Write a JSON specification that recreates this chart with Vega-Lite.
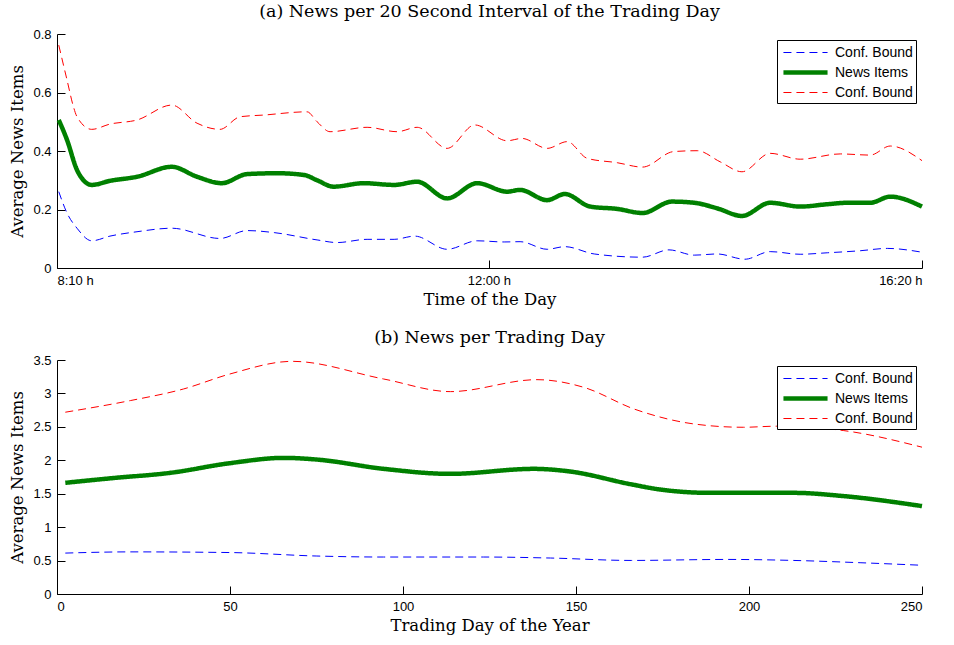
{
  "$schema": "https://vega.github.io/schema/vega-lite/v6.json",
  "padding": {"left": 9, "top": 2, "right": 5, "bottom": 5},
  "spacing": 20,
  "datasets": {
    "intraday": [
      {"s": "mid", "x": 3, "y": 0.506}, {"s": "mid", "x": 17, "y": 0.438}, {"s": "mid", "x": 34, "y": 0.335}, {"s": "mid", "x": 45, "y": 0.300}, {"s": "mid", "x": 59, "y": 0.284}, {"s": "mid", "x": 90, "y": 0.298}, {"s": "mid", "x": 136, "y": 0.312}, {"s": "mid", "x": 195, "y": 0.346}, {"s": "mid", "x": 238, "y": 0.312}, {"s": "mid", "x": 280, "y": 0.290}, {"s": "mid", "x": 323, "y": 0.321}, {"s": "mid", "x": 374, "y": 0.324}, {"s": "mid", "x": 420, "y": 0.318}, {"s": "mid", "x": 442, "y": 0.300}, {"s": "mid", "x": 470, "y": 0.278}, {"s": "mid", "x": 521, "y": 0.290}, {"s": "mid", "x": 573, "y": 0.284}, {"s": "mid", "x": 612, "y": 0.295}, {"s": "mid", "x": 663, "y": 0.238}, {"s": "mid", "x": 714, "y": 0.290}, {"s": "mid", "x": 765, "y": 0.261}, {"s": "mid", "x": 787, "y": 0.267}, {"s": "mid", "x": 833, "y": 0.232}, {"s": "mid", "x": 863, "y": 0.253}, {"s": "mid", "x": 906, "y": 0.210}, {"s": "mid", "x": 952, "y": 0.202}, {"s": "mid", "x": 995, "y": 0.188}, {"s": "mid", "x": 1045, "y": 0.227}, {"s": "mid", "x": 1083, "y": 0.223}, {"s": "mid", "x": 1122, "y": 0.204}, {"s": "mid", "x": 1164, "y": 0.178}, {"s": "mid", "x": 1212, "y": 0.223}, {"s": "mid", "x": 1263, "y": 0.210}, {"s": "mid", "x": 1309, "y": 0.218}, {"s": "mid", "x": 1343, "y": 0.223}, {"s": "mid", "x": 1382, "y": 0.223}, {"s": "mid", "x": 1416, "y": 0.244}, {"s": "mid", "x": 1470, "y": 0.210},
      {"s": "hi", "x": 3, "y": 0.762}, {"s": "hi", "x": 17, "y": 0.643}, {"s": "hi", "x": 28, "y": 0.551}, {"s": "hi", "x": 34, "y": 0.517}, {"s": "hi", "x": 59, "y": 0.474}, {"s": "hi", "x": 90, "y": 0.492}, {"s": "hi", "x": 136, "y": 0.506}, {"s": "hi", "x": 195, "y": 0.557}, {"s": "hi", "x": 238, "y": 0.495}, {"s": "hi", "x": 277, "y": 0.474}, {"s": "hi", "x": 311, "y": 0.517}, {"s": "hi", "x": 352, "y": 0.523}, {"s": "hi", "x": 425, "y": 0.534}, {"s": "hi", "x": 442, "y": 0.500}, {"s": "hi", "x": 464, "y": 0.466}, {"s": "hi", "x": 527, "y": 0.481}, {"s": "hi", "x": 578, "y": 0.466}, {"s": "hi", "x": 612, "y": 0.481}, {"s": "hi", "x": 663, "y": 0.409}, {"s": "hi", "x": 710, "y": 0.489}, {"s": "hi", "x": 765, "y": 0.435}, {"s": "hi", "x": 790, "y": 0.443}, {"s": "hi", "x": 833, "y": 0.409}, {"s": "hi", "x": 867, "y": 0.432}, {"s": "hi", "x": 901, "y": 0.375}, {"s": "hi", "x": 952, "y": 0.360}, {"s": "hi", "x": 995, "y": 0.345}, {"s": "hi", "x": 1048, "y": 0.398}, {"s": "hi", "x": 1088, "y": 0.401}, {"s": "hi", "x": 1127, "y": 0.363}, {"s": "hi", "x": 1164, "y": 0.329}, {"s": "hi", "x": 1212, "y": 0.392}, {"s": "hi", "x": 1263, "y": 0.372}, {"s": "hi", "x": 1331, "y": 0.390}, {"s": "hi", "x": 1382, "y": 0.386}, {"s": "hi", "x": 1416, "y": 0.417}, {"s": "hi", "x": 1470, "y": 0.367},
      {"s": "lo", "x": 3, "y": 0.261}, {"s": "lo", "x": 17, "y": 0.188}, {"s": "lo", "x": 34, "y": 0.136}, {"s": "lo", "x": 59, "y": 0.093}, {"s": "lo", "x": 90, "y": 0.109}, {"s": "lo", "x": 136, "y": 0.124}, {"s": "lo", "x": 195, "y": 0.136}, {"s": "lo", "x": 277, "y": 0.101}, {"s": "lo", "x": 323, "y": 0.128}, {"s": "lo", "x": 369, "y": 0.121}, {"s": "lo", "x": 442, "y": 0.096}, {"s": "lo", "x": 476, "y": 0.087}, {"s": "lo", "x": 527, "y": 0.098}, {"s": "lo", "x": 573, "y": 0.098}, {"s": "lo", "x": 608, "y": 0.109}, {"s": "lo", "x": 663, "y": 0.064}, {"s": "lo", "x": 714, "y": 0.093}, {"s": "lo", "x": 760, "y": 0.089}, {"s": "lo", "x": 787, "y": 0.090}, {"s": "lo", "x": 833, "y": 0.064}, {"s": "lo", "x": 863, "y": 0.073}, {"s": "lo", "x": 913, "y": 0.048}, {"s": "lo", "x": 995, "y": 0.037}, {"s": "lo", "x": 1040, "y": 0.062}, {"s": "lo", "x": 1083, "y": 0.044}, {"s": "lo", "x": 1122, "y": 0.048}, {"s": "lo", "x": 1169, "y": 0.030}, {"s": "lo", "x": 1212, "y": 0.056}, {"s": "lo", "x": 1263, "y": 0.047}, {"s": "lo", "x": 1309, "y": 0.052}, {"s": "lo", "x": 1365, "y": 0.059}, {"s": "lo", "x": 1411, "y": 0.067}, {"s": "lo", "x": 1470, "y": 0.054}
    ],
    "daily": [
      {"s": "mid", "x": 2.4, "y": 1.663}, {"s": "mid", "x": 16.4, "y": 1.735}, {"s": "mid", "x": 32.7, "y": 1.812}, {"s": "mid", "x": 50, "y": 1.957}, {"s": "mid", "x": 65.5, "y": 2.036}, {"s": "mid", "x": 75.1, "y": 2.011}, {"s": "mid", "x": 94.4, "y": 1.872}, {"s": "mid", "x": 113.7, "y": 1.797}, {"s": "mid", "x": 137.8, "y": 1.872}, {"s": "mid", "x": 148.3, "y": 1.832}, {"s": "mid", "x": 166.0, "y": 1.640}, {"s": "mid", "x": 174.3, "y": 1.563}, {"s": "mid", "x": 188.8, "y": 1.513}, {"s": "mid", "x": 212.9, "y": 1.513}, {"s": "mid", "x": 227.4, "y": 1.464}, {"s": "mid", "x": 250, "y": 1.315},
      {"s": "hi", "x": 2.4, "y": 2.719}, {"s": "hi", "x": 21.2, "y": 2.893}, {"s": "hi", "x": 36.6, "y": 3.067}, {"s": "hi", "x": 50, "y": 3.291}, {"s": "hi", "x": 68, "y": 3.48}, {"s": "hi", "x": 94.4, "y": 3.216}, {"s": "hi", "x": 113.7, "y": 3.027}, {"s": "hi", "x": 138.7, "y": 3.206}, {"s": "hi", "x": 152.2, "y": 3.092}, {"s": "hi", "x": 167.0, "y": 2.763}, {"s": "hi", "x": 184, "y": 2.544}, {"s": "hi", "x": 198.4, "y": 2.494}, {"s": "hi", "x": 208, "y": 2.51}, {"s": "hi", "x": 227.4, "y": 2.444}, {"s": "hi", "x": 250, "y": 2.196},
      {"s": "lo", "x": 2.4, "y": 0.612}, {"s": "lo", "x": 21.2, "y": 0.630}, {"s": "lo", "x": 50, "y": 0.620}, {"s": "lo", "x": 75.1, "y": 0.568}, {"s": "lo", "x": 94.4, "y": 0.553}, {"s": "lo", "x": 123.3, "y": 0.553}, {"s": "lo", "x": 142.6, "y": 0.538}, {"s": "lo", "x": 166, "y": 0.502}, {"s": "lo", "x": 193.6, "y": 0.517}, {"s": "lo", "x": 212.9, "y": 0.502}, {"s": "lo", "x": 232.1, "y": 0.468}, {"s": "lo", "x": 249, "y": 0.432}
    ]
  },
  "vconcat": [
    {
      "width": 865,
      "height": 234,
      "title": "(a) News per 20 Second Interval of the Trading Day",
      "data": {"name": "intraday"},
      "mark": {"type": "line", "interpolate": "monotone"},
      "encoding": {
        "x": {"field": "x", "type": "quantitative", "scale": {"domain": [0, 1470], "nice": false, "zero": false},
              "axis": {"title": "Time of the Day", "values": [0, 734, 1470], "tickSize": -8, "labelExpr": "datum.value == 0 ? '8:10 h' : datum.value == 1470 ? '16:20 h' : '12:00 h'"}},
        "y": {"field": "y", "type": "quantitative", "scale": {"domain": [0, 0.8], "nice": false},
              "axis": {"title": "Average News Items", "values": [0, 0.2, 0.4, 0.6, 0.8], "tickSize": -8, "format": "~g"}},
        "color": {"field": "s", "type": "nominal", "scale": {"domain": ["lo", "mid", "hi"], "range": ["#0000ff", "#008000", "#ff0000"]},
                  "legend": {"title": null, "labelExpr": "datum.value == 'mid' ? 'News Items' : 'Conf. Bound'"}},
        "strokeDash": {"field": "s", "type": "nominal", "scale": {"type": "ordinal", "domain": ["lo", "mid", "hi"], "range": [[8, 5], [1, 0], [8, 5]]},
                  "legend": {"title": null, "labelExpr": "datum.value == 'mid' ? 'News Items' : 'Conf. Bound'"}},
        "strokeWidth": {"field": "s", "type": "nominal", "scale": {"type": "ordinal", "domain": ["lo", "mid", "hi"], "range": [1, 4.5, 1]},
                  "legend": {"title": null, "labelExpr": "datum.value == 'mid' ? 'News Items' : 'Conf. Bound'"}}
      }
    },
    {
      "width": 865,
      "height": 234,
      "title": "(b) News per Trading Day",
      "data": {"name": "daily"},
      "mark": {"type": "line", "interpolate": "monotone"},
      "encoding": {
        "x": {"field": "x", "type": "quantitative", "scale": {"domain": [0, 250], "nice": false, "zero": false},
              "axis": {"title": "Trading Day of the Year", "values": [0, 50, 100, 150, 200, 250], "tickSize": -8}},
        "y": {"field": "y", "type": "quantitative", "scale": {"domain": [0, 3.5], "nice": false},
              "axis": {"title": "Average News Items", "values": [0, 0.5, 1, 1.5, 2, 2.5, 3, 3.5], "tickSize": -8, "format": "~g"}},
        "color": {"field": "s", "type": "nominal", "scale": {"domain": ["lo", "mid", "hi"], "range": ["#0000ff", "#008000", "#ff0000"]},
                  "legend": {"title": null, "labelExpr": "datum.value == 'mid' ? 'News Items' : 'Conf. Bound'"}},
        "strokeDash": {"field": "s", "type": "nominal", "scale": {"type": "ordinal", "domain": ["lo", "mid", "hi"], "range": [[8, 5], [1, 0], [8, 5]]},
                  "legend": {"title": null, "labelExpr": "datum.value == 'mid' ? 'News Items' : 'Conf. Bound'"}},
        "strokeWidth": {"field": "s", "type": "nominal", "scale": {"type": "ordinal", "domain": ["lo", "mid", "hi"], "range": [1, 4.5, 1]},
                  "legend": {"title": null, "labelExpr": "datum.value == 'mid' ? 'News Items' : 'Conf. Bound'"}}
      }
    }
  ],
  "resolve": {"scale": {"color": "independent", "strokeDash": "independent", "strokeWidth": "independent"}},
  "config": {
    "view": {"stroke": null},
    "axis": {"grid": false, "domainColor": "black", "domainWidth": 1, "tickColor": "black", "labelPadding": 14,
             "labelFont": "Liberation Sans", "labelFontSize": 13, "labelColor": "black",
             "titleFont": "DejaVu Serif", "titleFontSize": 16.5, "titleFontWeight": "normal", "titleColor": "black", "labelOverlap": false, "labelBound": false},
    "axisY": {"titlePadding": 7},
    "axisX": {"titlePadding": 4},
    "title": {"font": "DejaVu Serif", "fontSize": 17.5, "fontWeight": "normal", "color": "black", "anchor": "middle", "offset": 8},
    "legend": {"orient": "top-right", "offset": 6, "strokeColor": "black", "fillColor": "white", "padding": 3, "cornerRadius": 0,
               "labelFont": "Liberation Sans", "labelFontSize": 14, "labelColor": "black", "symbolType": "M-2.45,0H2.45", "symbolSize": 324, "symbolOffset": 14, "rowPadding": 1, "labelOffset": 18}
  }
}
